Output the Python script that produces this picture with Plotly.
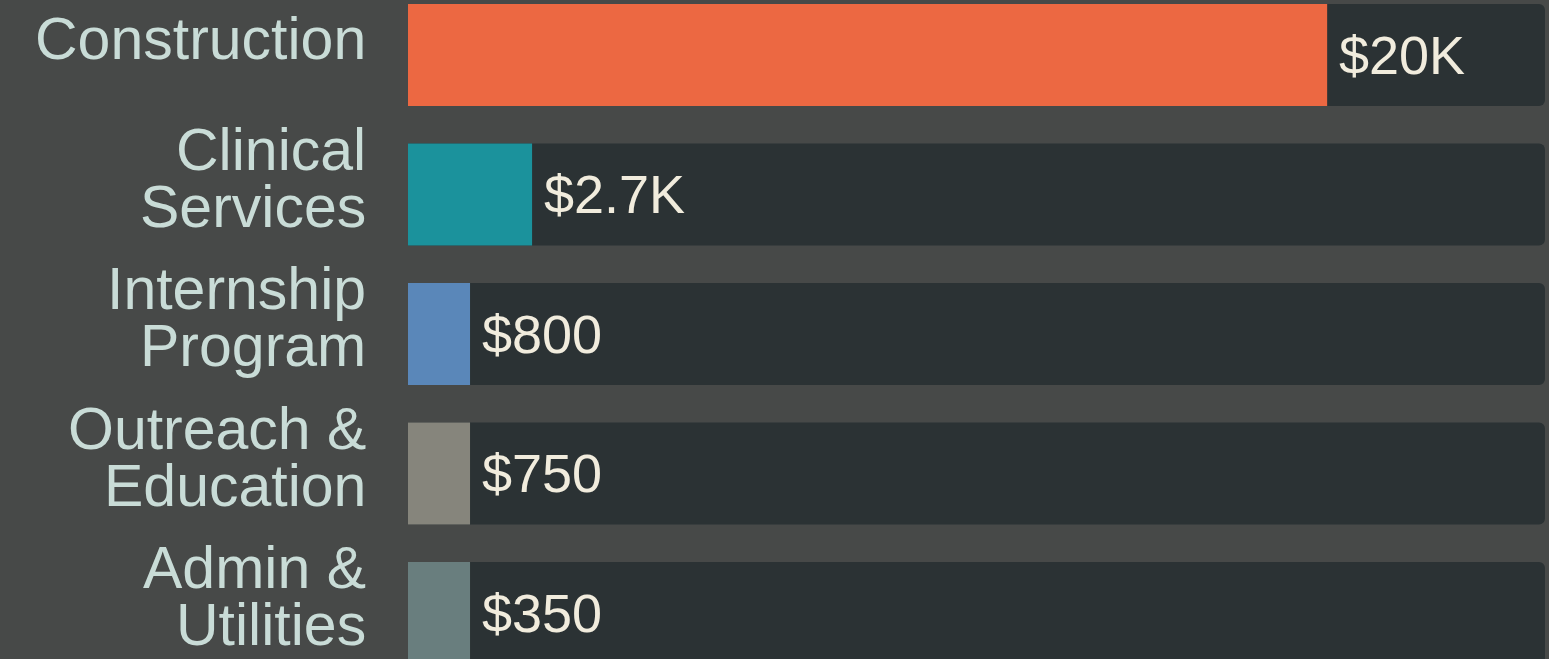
import plotly.graph_objects as go

categories = ["Construction", "Clinical Services", "Internship Program",
              "Outreach & Education", "Admin & Utilities"]
label_lines = [["Construction"], ["Clinical", "Services"], ["Internship", "Program"],
               ["Outreach &", "Education"], ["Admin &", "Utilities"]]
values = [20000, 2700, 800, 750, 350]
value_labels = ["$20K", "$2.7K", "$800", "$750", "$350"]
bar_colors = ["#ec6842", "#1b929c", "#5a87b9", "#86857c", "#697e7e"]

x_max = 24740          # full track length
min_visible = 1350     # minimum drawn bar length so small values stay visible
display_values = [max(v, min_visible) for v in values]

fig = go.Figure()
fig.add_trace(go.Bar(
    y=categories, x=[x_max] * len(categories), orientation="h",
    marker=dict(color="#2b3234", line=dict(width=0), cornerradius=6),
    hoverinfo="skip", showlegend=False,
))
fig.add_trace(go.Bar(
    y=categories, x=display_values, orientation="h",
    marker=dict(color=bar_colors, line=dict(width=0), cornerradius=6),
    customdata=values, hovertemplate="%{y}: $%{customdata:,}<extra></extra>",
    showlegend=False,
))

annotations = []
for cat, lines in zip(categories, label_lines):
    n = len(lines)
    for i, line in enumerate(lines):
        offset = (i - (n - 1) / 2) * 57
        annotations.append(dict(
            x=0, xref="paper", y=cat, yref="y", text=line, showarrow=False,
            xanchor="right", yanchor="middle", xshift=-40, yshift=16 - offset,
            font=dict(family="Liberation Sans, Arial, sans-serif", size=59, color="#c9dcd7"),
        ))
for cat, dv, lbl in zip(categories, display_values, value_labels):
    annotations.append(dict(
        x=dv, xref="x", y=cat, yref="y", text=lbl, showarrow=False,
        xanchor="left", yanchor="middle", xshift=10, yshift=0,
        font=dict(family="Liberation Sans, Arial, sans-serif", size=54, color="#f1ecdd"),
    ))

fig.update_layout(
    width=1549, height=659,
    margin=dict(l=408, r=4, t=0, b=0, pad=0),
    paper_bgcolor="#474948", plot_bgcolor="#474948",
    barmode="overlay", bargap=0.269,
    xaxis=dict(range=[0, x_max], visible=False, fixedrange=True),
    yaxis=dict(range=[4.33, -0.394], autorange=False, visible=False,
               categoryorder="array", categoryarray=categories),
    annotations=annotations,
)

fig.write_html("out.html", config={"displayModeBar": False},
               post_script="document.body.style.margin='0';document.body.style.overflow='hidden';")
